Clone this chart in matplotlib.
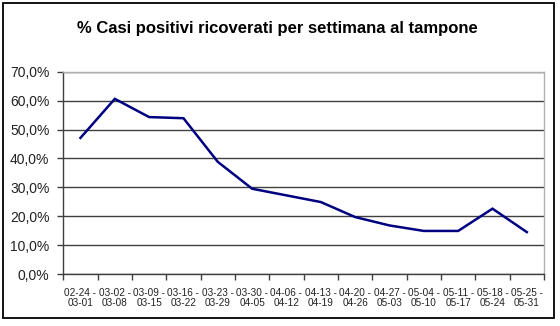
import matplotlib
matplotlib.use("Agg")
import matplotlib.pyplot as plt
from matplotlib.patches import Rectangle
from matplotlib.ticker import FuncFormatter, FixedLocator

plt.rcParams['font.family'] = ['Liberation Sans', 'DejaVu Sans']

title = "% Casi positivi ricoverati per settimana al tampone"
weeks = ["02-24 -\n03-01", "03-02 -\n03-08", "03-09 -\n03-15", "03-16 -\n03-22",
         "03-23 -\n03-29", "03-30 -\n04-05", "04-06 -\n04-12", "04-13 -\n04-19",
         "04-20 -\n04-26", "04-27 -\n05-03", "05-04 -\n05-10", "05-11 -\n05-17",
         "05-18 -\n05-24", "05-25 -\n05-31"]
values = [47.1, 60.6, 54.3, 53.9, 38.8, 29.5, 27.2, 24.9, 19.7, 16.8, 14.9, 14.9, 22.6, 14.5]

W, H = 560, 326
fig = plt.figure(figsize=(W / 100, H / 100), dpi=100)

# outer border
fig.patches.append(Rectangle((3 / W, (H - 318) / H), 550.5 / W, 315 / H,
                             transform=fig.transFigure, fill=False,
                             edgecolor='black', linewidth=1.3))

left, right, top, bottom = 63.3, 544, 71.7, 274
ax = fig.add_axes([left / W, (H - bottom) / H, (right - left) / W, (bottom - top) / H])

x = list(range(len(values)))
ax.plot(x, values, color='#000080', linewidth=1.8, solid_joinstyle='miter', zorder=3)

ax.set_xlim(-0.5, len(values) - 0.5)
ax.set_ylim(0, 70)
ax.set_yticks(range(0, 71, 10))
ax.yaxis.set_major_formatter(FuncFormatter(lambda v, p: f"{v:.1f}%".replace('.', ',')))
ax.grid(axis='y', color='#404040', linewidth=1.0, zorder=1)

# x ticks: labels at centres, tick marks at boundaries
ax.set_xticks(x)
ax.set_xticklabels(weeks, fontsize=7.2, color='#222222', linespacing=1.05)
ax.xaxis.set_minor_locator(FixedLocator([i - 0.5 for i in range(len(values) + 1)]))
ax.tick_params(axis='x', which='major', length=0, pad=10)
ax.tick_params(axis='x', which='minor', length=4, width=1, color='#404040', direction='out')
ax.tick_params(axis='y', length=4, width=1, color='#404040', direction='out',
               labelsize=10, labelcolor='#222222', pad=6)

for s in ['top', 'right']:
    ax.spines[s].set_color('#b0b0b0')
    ax.spines[s].set_linewidth(1.0)
for s in ['left', 'bottom']:
    ax.spines[s].set_color('#404040')
    ax.spines[s].set_linewidth(1.0)

fig.text(277.5 / W, (H - 28) / H, title, ha='center', va='center',
         fontsize=12, fontweight='bold', color='black')

fig.savefig("out.png", dpi=100)
